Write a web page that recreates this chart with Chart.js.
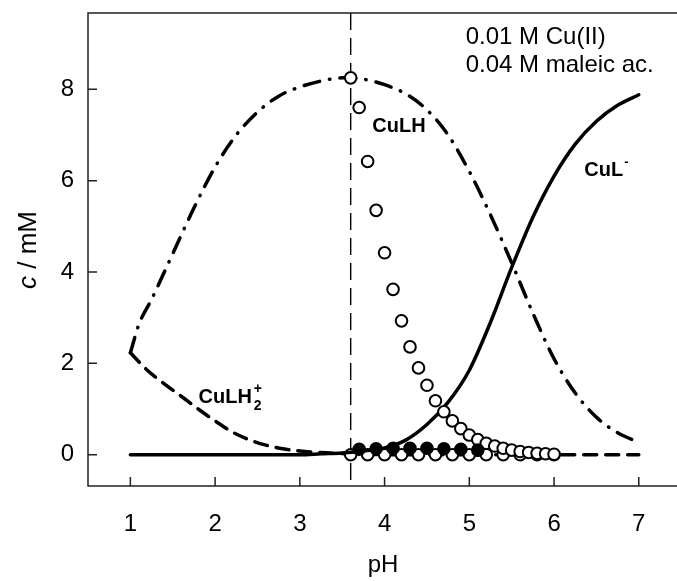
<!DOCTYPE html>
<html>
<head>
<meta charset="utf-8">
<script src="https://cdn.jsdelivr.net/npm/chart.js@4/dist/chart.umd.min.js"></script>
<style>
  html, body { margin: 0; padding: 0; background: #fff; overflow: hidden; }
  canvas { display: block; }
</style>
</head>
<body>
<!-- a few px wider than the window: the axis keeps room for the "7" label on the right -->
<canvas id="chart" width="686" height="581"></canvas>
<script>
// axis ticks
const xTicks = [1, 2, 3, 4, 5, 6, 7];
const yTicks = [0, 2, 4, 6, 8];
const refPH = 3.6;

// CuLH (dash-dot)
const phCuLH = [1.0, 1.1, 1.25, 1.5, 1.75, 2.0, 2.25, 2.5, 2.75, 3.0, 3.25, 3.5, 3.75, 4.0, 4.25, 4.5, 4.75, 5.0, 5.25, 5.5, 5.75, 6.0, 6.25, 6.5, 6.75, 7.0];
const cuLH   = [2.23, 2.85, 3.4, 4.4, 5.4, 6.3, 7.0, 7.5, 7.85, 8.05, 8.18, 8.25, 8.22, 8.1, 7.9, 7.55, 7.0, 6.2, 5.25, 4.2, 3.1, 2.1, 1.35, 0.82, 0.48, 0.27];

// CuLH2+ (dashed)
const phCuLH2 = [1.0, 1.2, 1.4, 1.6, 1.8, 2.0, 2.2, 2.4, 2.6, 2.8, 3.0, 3.2, 3.4, 3.6, 4.0, 5.0, 6.0, 7.0];
const cuLH2   = [2.23, 1.85, 1.55, 1.28, 1.0, 0.74, 0.5, 0.33, 0.21, 0.13, 0.08, 0.05, 0.03, 0.02, 0, 0, 0, 0];

// CuL- (solid)
const phCuL = [1.0, 2.0, 3.0, 3.25, 3.5, 3.75, 4.0, 4.25, 4.5, 4.75, 5.0, 5.25, 5.5, 5.75, 6.0, 6.25, 6.5, 6.75, 7.0];
const cuL   = [0, 0, 0, 0.02, 0.04, 0.08, 0.15, 0.32, 0.66, 1.15, 1.85, 2.9, 4.1, 5.2, 6.1, 6.8, 7.3, 7.65, 7.88];

// measured points
const phMeas = [3.6, 3.7, 3.8, 3.9, 4.0, 4.1, 4.2, 4.3, 4.4, 4.5, 4.6, 4.7, 4.8, 4.9, 5.0, 5.1, 5.2, 5.3, 5.4, 5.5, 5.6, 5.7, 5.8, 5.9, 6.0];
const measCuLH = [8.25, 7.6, 6.42, 5.35, 4.42, 3.62, 2.93, 2.36, 1.9, 1.52, 1.18, 0.94, 0.74, 0.57, 0.43, 0.33, 0.25, 0.19, 0.14, 0.10, 0.07, 0.05, 0.03, 0.02, 0.01];
const phFilled = [3.7, 3.9, 4.1, 4.3, 4.5, 4.7, 4.9, 5.1];
const measFilled = [0.12, 0.13, 0.14, 0.14, 0.14, 0.13, 0.12, 0.1];
const phZero = [3.6, 3.8, 4.0, 4.2, 4.4, 4.6, 4.8, 5.0, 5.2, 5.4, 5.6, 5.8, 6.0];
const measZero = [0, 0, 0, 0, 0, 0, 0, 0, 0, 0, 0, 0, 0];

const FONT = '"Liberation Sans", Arial, sans-serif';
const pts = (xs, ys) => xs.map((v, i) => ({x: v, y: ys[i]}));

const lineBase = {
  showLine: true,
  pointRadius: 0,
  borderColor: '#000',
  borderWidth: 3.5,
  borderCapStyle: 'round',
  cubicInterpolationMode: 'monotone',
  fill: false
};
const markBase = {
  showLine: false,
  pointRadius: 5.8,
  pointBorderWidth: 2,
  borderColor: '#000'
};

// frame, inward ticks and the dashed pH marker
const framePlugin = {
  id: 'frame',
  beforeDatasetsDraw(chart) {
    const {ctx, chartArea: {left, top, right, bottom}, scales: {x, y}} = chart;
    ctx.save();
    ctx.strokeStyle = '#222';
    ctx.lineWidth = 1.5;
    ctx.beginPath();
    ctx.moveTo(right, top);
    ctx.lineTo(left, top);
    ctx.lineTo(left, bottom);
    ctx.lineTo(right, bottom);
    x.ticks.forEach(t => {
      const px = x.getPixelForValue(t.value);
      ctx.moveTo(px, bottom);
      ctx.lineTo(px, bottom - 9);
    });
    y.ticks.forEach(t => {
      const py = y.getPixelForValue(t.value);
      ctx.moveTo(left, py);
      ctx.lineTo(left + 9, py);
    });
    ctx.stroke();

    const rx = x.getPixelForValue(refPH);
    ctx.setLineDash([17, 8]);
    ctx.lineWidth = 1.4;
    ctx.strokeStyle = '#000';
    ctx.beginPath();
    ctx.moveTo(rx, top);
    ctx.lineTo(rx, bottom);
    ctx.stroke();
    ctx.restore();
  },
  afterDraw(chart) {
    const {ctx, scales: {x, y}} = chart;
    ctx.save();
    ctx.fillStyle = '#000';
    ctx.textAlign = 'left';
    ctx.textBaseline = 'alphabetic';

    // y axis title with italic c
    ctx.save();
    ctx.translate(36, 250);
    ctx.rotate(-Math.PI / 2);
    ctx.font = 'italic 26px ' + FONT;
    const wc = ctx.measureText('c').width;
    ctx.font = '26px ' + FONT;
    const wr = ctx.measureText(' / mM').width;
    const x0 = -(wc + wr) / 2;
    ctx.font = 'italic 26px ' + FONT;
    ctx.fillText('c', x0, 0);
    ctx.font = '26px ' + FONT;
    ctx.fillText(' / mM', x0 + wc, 0);
    ctx.restore();

    // conditions
    ctx.font = '24px ' + FONT;
    ctx.fillText('0.01 M Cu(II)', x.getPixelForValue(4.957), y.getPixelForValue(9.0));
    ctx.fillText('0.04 M maleic ac.', x.getPixelForValue(4.957), y.getPixelForValue(8.385));

    // species labels
    ctx.font = 'bold 20px ' + FONT;
    ctx.fillText('CuLH', x.getPixelForValue(3.855), y.getPixelForValue(7.07));

    let px = x.getPixelForValue(6.357), py = y.getPixelForValue(6.11);
    ctx.fillText('CuL', px, py);
    let w = ctx.measureText('CuL').width;
    ctx.font = 'bold 13px ' + FONT;
    ctx.fillText('-', px + w + 1, py - 10);

    ctx.font = 'bold 20px ' + FONT;
    px = x.getPixelForValue(1.804); py = y.getPixelForValue(1.125);
    ctx.fillText('CuLH', px, py);
    w = ctx.measureText('CuLH').width;
    ctx.font = 'bold 14px ' + FONT;
    ctx.fillText('2', px + w + 2, py + 7);
    ctx.fillText('+', px + w + 2, py - 10);
    ctx.restore();
  }
};

new Chart(document.getElementById('chart'), {
  type: 'scatter',
  data: {
    datasets: [
      Object.assign({}, markBase, {label: 'filled', data: pts(phFilled, measFilled), backgroundColor: '#000', order: 0}),
      Object.assign({}, markBase, {label: 'CuLH meas', data: pts(phMeas, measCuLH), backgroundColor: '#fff', order: 1}),
      Object.assign({}, lineBase, {label: 'CuL-', data: pts(phCuL, cuL), order: 2}),
      Object.assign({}, markBase, {label: 'zero', data: pts(phZero, measZero), backgroundColor: '#fff', order: 3}),
      Object.assign({}, lineBase, {label: 'CuLH2+', data: pts(phCuLH2, cuLH2), borderDash: [13, 9], order: 4}),
      Object.assign({}, lineBase, {label: 'CuLH', data: pts(phCuLH, cuLH), borderDash: [16, 10, 0.5, 10], order: 5})
    ]
  },
  options: {
    responsive: false,
    animation: false,
    layout: {padding: {top: 13, right: 0, bottom: 0, left: 0}},
    plugins: {legend: {display: false}, tooltip: {enabled: false}},
    scales: {
      x: {
        type: 'linear',
        min: 0.5,
        max: 7.465,
        afterBuildTicks: s => { s.ticks = xTicks.map(v => ({value: v})); },
        afterFit: s => { s.height = 95; },
        grid: {display: false, drawTicks: true, tickLength: 22},
        border: {display: false},
        ticks: {color: '#000', padding: 2, font: {family: FONT, size: 24}},
        title: {display: true, text: 'pH', color: '#000', font: {family: FONT, size: 24}, padding: {top: 0, bottom: 1}}
      },
      y: {
        type: 'linear',
        min: -0.685,
        max: 9.67,
        afterBuildTicks: s => { s.ticks = yTicks.map(v => ({value: v})); },
        afterFit: s => { s.width = 88; s.paddingTop = 0; s.paddingBottom = 0; },
        grid: {display: false, drawTicks: true, tickLength: 14},
        border: {display: false},
        ticks: {color: '#000', padding: 0, font: {family: FONT, size: 24}}
      }
    }
  },
  plugins: [framePlugin]
});
</script>
</body>
</html>
